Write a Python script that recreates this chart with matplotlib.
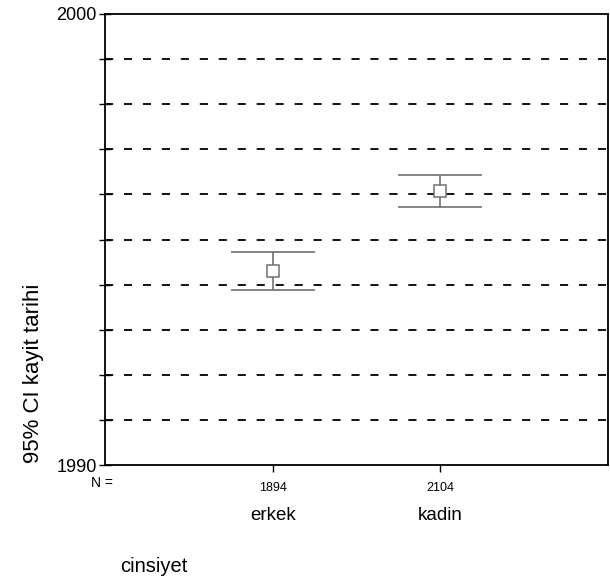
import numpy as np
import matplotlib
matplotlib.use('Agg')
import matplotlib.pyplot as plt

# --- Data ---
groups = ['erkek', 'kadin']
n_counts = ['1894', '2104']
means = [1994.31, 1996.07]
ci_low = [1993.87, 1995.71]
ci_high = [1994.73, 1996.42]

plt.rcParams['font.family'] = ['Liberation Sans', 'DejaVu Sans']

fig = plt.figure(figsize=(6.1, 5.79), dpi=100)
ax = fig.add_axes([105/610, 1 - 465/579, 503/610, 451/579])

x = np.arange(1, len(groups) + 1)
means = np.array(means)
lo = means - np.array(ci_low)
hi = np.array(ci_high) - means

# dashed reference lines at every year
for yr in range(1991, 2000):
    ax.axhline(yr, color='black', lw=1.3, ls=(0, (4.5, 6)), zorder=1)

ax.errorbar(x, means, yerr=[lo, hi], fmt='none', ecolor='#707070',
            elinewidth=1.2, capsize=30, capthick=1.2, zorder=3)
ax.plot(x, means, ls='none', marker='s', ms=8.5, mfc='white',
        mec='#707070', mew=1.1, zorder=4)

ax.set_xlim(0, 3)
ax.set_ylim(1990, 2000)
ax.set_yticks(np.arange(1990, 2001, 1))
ax.set_yticklabels(['1990'] + [''] * 9 + ['2000'], fontsize=13)
ax.set_xticks(x)
ax.set_xticklabels(n_counts, fontsize=9)
ax.tick_params(axis='y', direction='inout', length=8, width=1, pad=2)
ax.tick_params(axis='x', direction='out', length=5, width=1, pad=7)
for s in ax.spines.values():
    s.set_linewidth(1.3)

# group names under the N counts
for xi, g in zip(x, groups):
    ax.annotate(g, xy=(xi, 0), xycoords=('data', 'axes fraction'),
                xytext=(0, -36), textcoords='offset points',
                ha='center', va='center', fontsize=13.5)
ax.annotate('N =', xy=(0, 0), xycoords='axes fraction', xytext=(-2, -13),
            textcoords='offset points', ha='center', va='center', fontsize=10)

fig.text(34/610, 1 - 373/579, '95% CI kayit tarihi', rotation=90,
         ha='center', va='center', fontsize=16)
fig.text(120/610, 1 - 566/579, 'cinsiyet', ha='left', va='center', fontsize=14.5)

fig.savefig('out.png', dpi=100)
